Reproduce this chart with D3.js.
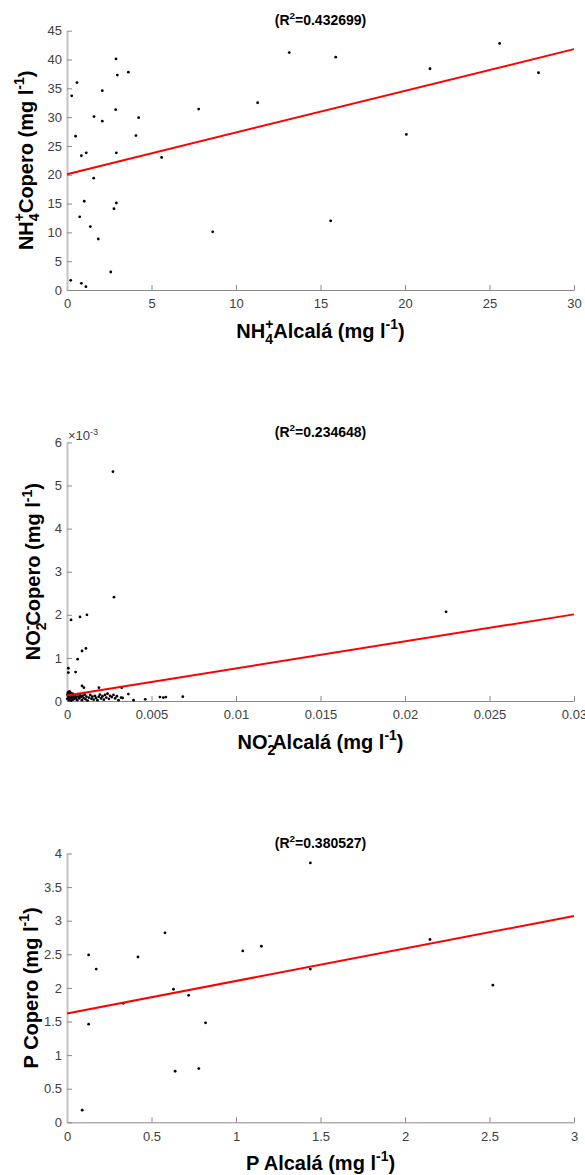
<!DOCTYPE html>
<html>
<head>
<meta charset="utf-8">
<script src="https://cdn.jsdelivr.net/npm/d3@7/dist/d3.min.js"></script>
<style>
  html, body { margin: 0; padding: 0; background: #fff; }
  svg { display: block; }
  text { font-family: "Liberation Sans", Arial, Helvetica, sans-serif; }
</style>
</head>
<body>
<svg id="chart" width="585" height="1175"></svg>
<script>
// ---------- Panel 1: NH4+ ----------
const p1X = [0.28,0.59,0.51,0.85,1.14,1.6,2.09,2.09,2.9,2.98,2.88,2.92,3.63,4.24,4.08,5.6,7.79,11.28,13.15,15.9,21.48,25.6,27.9,20.08,1.58,1.02,2.92,2.78,0.75,1.38,1.85,8.62,0.22,0.85,1.12,2.59,15.6];
const p1Y = [33.7,36.0,26.7,23.3,23.8,30.1,34.6,29.3,40.1,37.3,31.3,23.8,37.8,29.9,26.8,23.0,31.4,32.5,41.2,40.4,38.4,42.8,37.7,27.0,19.4,15.4,15.1,14.1,12.7,11.0,8.85,10.1,1.68,1.16,0.58,3.12,12.0];
const p1LineX = [0, 30];
const p1LineY = [20.1, 41.8];
const p1XTicks = [0,5,10,15,20,25,30];
const p1YTicks = [0,5,10,15,20,25,30,35,40,45];
const p1Title = "0.432699";

// ---------- Panel 2: NO2- ----------
const p2X = [0.00272,0.00278,0.00024,0.00077,0.00118,0.00089,0.00112,0.00063,0.00008,0.00008,0.00051,0.00089,0.0010,0.00189,0.00324,0.00363,0.00394,0.00463,0.0055,0.0057,0.00585,0.00685,0.00329,0.02243,
  0.00002,0.00003,0.00005,0.00006,0.00008,0.0001,0.00012,0.00014,0.00015,0.00018,0.0002,0.00022,0.00025,0.00028,0.0003,0.00033,0.00035,0.0004,0.00042,0.00045,0.0005,0.00055,0.0006,0.00062,0.00068,0.00072,0.00078,0.00082,0.00088,0.00092,0.00098,0.00105,0.0011,0.00115,0.00122,0.0013,0.00138,0.00145,0.0015,0.00158,0.00165,0.00172,0.0018,0.00188,0.00195,0.00202,0.0021,0.00218,0.00225,0.00232,0.0024,0.00248,0.00255,0.00265,0.00275,0.00285,0.00295,0.00305,0.0032];
const p2Y = [0.00532,0.00241,0.00188,0.00195,0.0020,0.00116,0.00122,0.00097,0.00076,0.00066,0.00067,0.00035,0.00031,0.00031,0.00031,0.00016,0.00002,0.00004,0.00009,0.00008,0.00009,0.0001,0.00007,0.00207,
  0.00005,0.00015,0.00012,0.0002,0.00018,0.00008,0.00002,0.00022,0.0001,0.00015,0.00006,0.00019,0.00001,0.00012,0.00008,0.00017,0.00003,0.0001,0.00014,0.00005,0.00011,0.00008,0.00002,0.00016,0.0001,0.00006,0.00013,0.00009,0.00002,0.00012,0.00007,0.00015,0.00004,0.0001,0.00001,0.00008,0.00014,0.00005,0.0001,0.00003,0.00012,0.00007,0.00002,0.0001,0.00015,0.00006,0.00011,0.00003,0.00014,0.00008,0.00017,0.00005,0.00012,0.00009,0.00014,0.00006,0.00011,0.00002,0.00008];
const p2LineX = [0, 0.03];
const p2LineY = [0.00013, 0.00201];
const p2XTicks = [0,0.005,0.01,0.015,0.02,0.025,0.03];
const p2XTickLabels = ["0","0.005","0.01","0.015","0.02","0.025","0.03"];
const p2YTicks = [0,0.001,0.002,0.003,0.004,0.005,0.006];
const p2YTickLabels = ["0","1","2","3","4","5","6"];
const p2Title = "0.234648";

// ---------- Panel 3: P ----------
const p3X = [0.128,0.173,0.42,0.58,1.04,1.15,1.44,2.148,1.44,0.63,0.72,0.333,0.128,0.82,0.64,0.78,0.09,2.52];
const p3Y = [2.49,2.28,2.46,2.82,2.55,2.62,3.86,2.72,2.28,1.98,1.89,1.77,1.46,1.48,0.76,0.80,0.18,2.04];
const p3LineX = [0, 3];
const p3LineY = [1.62, 3.07];
const p3XTicks = [0,0.5,1,1.5,2,2.5,3];
const p3XTickLabels = ["0","0.5","1","1.5","2","2.5","3"];
const p3YTicks = [0,0.5,1,1.5,2,2.5,3,3.5,4];
const p3YTickLabels = ["0","0.5","1","1.5","2","2.5","3","3.5","4"];
const p3Title = "0.380527";

// ---------- layout ----------
const svg = d3.select("#chart");
const LEFT = 67, RIGHT = 574;

function rich(sel, segs, fs) {
  let cur = 0, lastLen = 0;
  segs.forEach(s => {
    const target = s.sub ? 0.3 * fs : (s.sup ? -0.42 * fs : 0);
    const ts = sel.append("tspan").text(s.t).attr("dy", target - cur);
    if (s.sub || s.sup) ts.attr("font-size", fs * 0.7);
    if (s.stack) ts.attr("dx", -lastLen);
    cur = target;
    lastLen = ts.node().getComputedTextLength();
  });
}

const panels = [
  { xs: p1X, ys: p1Y, lx: p1LineX, ly: p1LineY, xdom: [0,30], ydom: [0,45],
    xt: p1XTicks, xtl: p1XTicks.map(String), yt: p1YTicks, ytl: p1YTicks.map(String),
    top: 30.7, bottom: 290, title: p1Title, ylabX: 32.5,
    xlab: [{t:"NH"},{t:"4",sub:true},{t:"+",sup:true,stack:true},{t:"Alcalá (mg l"},{t:"-1",sup:true},{t:")"}],
    ylab: [{t:"NH"},{t:"4",sub:true},{t:"+",sup:true,stack:true},{t:"Copero (mg l"},{t:"-1",sup:true},{t:")"}] },
  { xs: p2X, ys: p2Y, lx: p2LineX, ly: p2LineY, xdom: [0,0.03], ydom: [0,0.006],
    xt: p2XTicks, xtl: p2XTickLabels, yt: p2YTicks, ytl: p2YTickLabels,
    top: 442.4, bottom: 701, title: p2Title, ylabX: 40, exp: true,
    xlab: [{t:"NO"},{t:"2",sub:true},{t:"-",sup:true,stack:true},{t:"Alcalá (mg l"},{t:"-1",sup:true},{t:")"}],
    ylab: [{t:"NO"},{t:"2",sub:true},{t:"-",sup:true,stack:true},{t:"Copero (mg l"},{t:"-1",sup:true},{t:")"}] },
  { xs: p3X, ys: p3Y, lx: p3LineX, ly: p3LineY, xdom: [0,3], ydom: [0,4],
    xt: p3XTicks, xtl: p3XTickLabels, yt: p3YTicks, ytl: p3YTickLabels,
    top: 853.5, bottom: 1122.3, title: p3Title, ylabX: 37.7,
    xlab: [{t:"P Alcalá (mg l"},{t:"-1",sup:true},{t:")"}],
    ylab: [{t:"P Copero (mg l"},{t:"-1",sup:true},{t:")"}] }
];

panels.forEach(p => {
  const x = d3.scaleLinear().domain(p.xdom).range([LEFT, RIGHT]);
  const y = d3.scaleLinear().domain(p.ydom).range([p.bottom, p.top]);
  const g = svg.append("g");

  // axes
  const xa = d3.axisBottom(x).tickValues(p.xt).tickFormat((d,i) => p.xtl[i])
    .tickSizeInner(-5).tickSizeOuter(0).tickPadding(9);
  const ya = d3.axisLeft(y).tickValues(p.yt).tickFormat((d,i) => p.ytl[i])
    .tickSizeInner(-5).tickSizeOuter(0).tickPadding(5);

  const gx = g.append("g").attr("transform", `translate(0,${p.bottom})`).call(xa);
  const gy = g.append("g").attr("transform", `translate(${LEFT},0)`).call(ya);
  [gx, gy].forEach(ax => {
    ax.selectAll("text").attr("font-size", 13).attr("fill", "#404040")
      .attr("font-family", '"Liberation Sans", Arial, sans-serif');
    ax.selectAll(".tick line").attr("stroke", "#8a8a8a");
  });
  gx.select(".domain").attr("stroke", "#8a8a8a").attr("stroke-width", 1);
  gy.select(".domain").attr("stroke", "#c4c4c4").attr("stroke-width", 2);

  // points
  g.append("g").selectAll("circle").data(p.xs.map((v,i) => [v, p.ys[i]]))
    .join("circle").attr("cx", d => x(d[0])).attr("cy", d => y(d[1]))
    .attr("r", 1.4).attr("fill", "#000");

  // regression line
  g.append("path").datum(p.lx.map((v,i) => [v, p.ly[i]]))
    .attr("d", d3.line().x(d => x(d[0])).y(d => y(d[1])))
    .attr("fill", "none").attr("stroke", "#ff0000").attr("stroke-width", 2);

  // title
  const tt = g.append("text").attr("x", (LEFT + RIGHT) / 2).attr("y", p.top - 5.5)
    .attr("text-anchor", "middle").attr("font-weight", "bold").attr("font-size", 14);
  rich(tt, [{t:"(R"},{t:"2",sup:true},{t:"=" + p.title + ")"}], 14);

  // x label
  const xl = g.append("text").attr("x", (LEFT + RIGHT) / 2).attr("y", p.bottom + 47.5)
    .attr("text-anchor", "middle").attr("font-weight", "bold").attr("font-size", 20);
  rich(xl, p.xlab, 20);

  // y label
  const yl = g.append("text")
    .attr("transform", `translate(${p.ylabX},${(p.top + p.bottom) / 2}) rotate(-90)`)
    .attr("text-anchor", "middle").attr("font-weight", "bold").attr("font-size", 20);
  rich(yl, p.ylab, 20);

  // exponent
  if (p.exp) {
    const et = g.append("text").attr("x", LEFT + 1).attr("y", p.top - 2)
      .attr("font-size", 13).attr("fill", "#404040");
    rich(et, [{t:"×10"},{t:"-3",sup:true}], 13);
  }
});
</script>
</body>
</html>
